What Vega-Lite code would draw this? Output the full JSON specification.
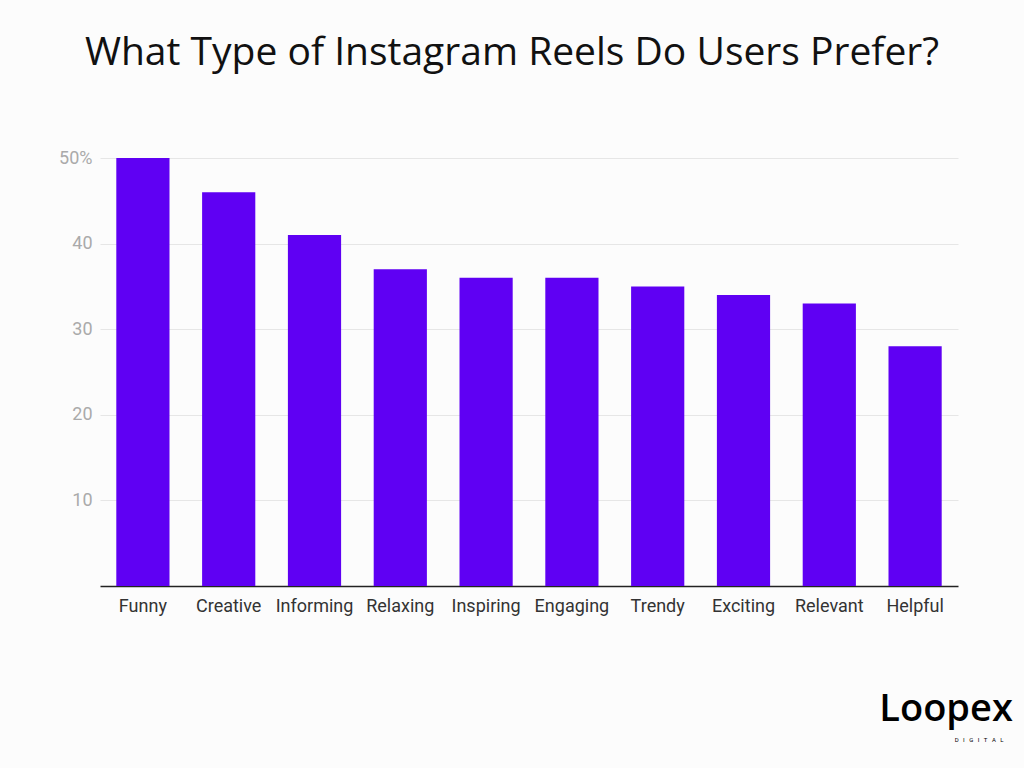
{
  "$schema": "https://vega.github.io/schema/vega-lite/v6.json",
  "width": 858,
  "height": 428,
  "autosize": {"type": "none"},
  "padding": {"left": 100, "top": 158, "right": 66, "bottom": 182},
  "background": "#fcfcfc",
  "title": {
    "text": "What Type of Instagram Reels Do Users Prefer?",
    "font": "Open Sans",
    "fontSize": 39,
    "fontWeight": "normal",
    "color": "#111111",
    "anchor": "middle",
    "dx": -17,
    "offset": 76
  },
  "config": {
    "view": {"stroke": null},
    "axis": {"labelFont": "Roboto"}
  },
  "layer": [
    {
      "data": {
        "values": [
          {"type": "Funny", "share": 50},
          {"type": "Creative", "share": 46},
          {"type": "Informing", "share": 41},
          {"type": "Relaxing", "share": 37},
          {"type": "Inspiring", "share": 36},
          {"type": "Engaging", "share": 36},
          {"type": "Trendy", "share": 35},
          {"type": "Exciting", "share": 34},
          {"type": "Relevant", "share": 33},
          {"type": "Helpful", "share": 28}
        ]
      },
      "mark": {"type": "bar", "color": "#5f00f3"},
      "encoding": {
        "x": {
          "field": "type",
          "type": "nominal",
          "sort": null,
          "title": null,
          "scale": {"paddingInner": 0.38, "paddingOuter": 0.19},
          "axis": {
            "labelAngle": 0,
            "labelFontSize": 18,
            "labelColor": "#333333",
            "labelPadding": 11,
            "ticks": false,
            "domainColor": "#222222",
            "domainWidth": 1.5
          }
        },
        "y": {
          "field": "share",
          "type": "quantitative",
          "title": null,
          "scale": {"domain": [0, 50]},
          "axis": {
            "values": [10, 20, 30, 40, 50],
            "labelExpr": "datum.value == 50 ? '50%' : datum.label",
            "labelFontSize": 18,
            "labelColor": "#aaaaaa",
            "labelPadding": 8,
            "ticks": false,
            "domain": false,
            "gridColor": "#e6e6e6"
          }
        }
      }
    },
    {
      "data": {"values": [{"type": "Helpful", "logo": "Loopex", "sub": "D\u00a0\u00a0\u00a0I\u00a0\u00a0\u00a0G\u00a0\u00a0\u00a0I\u00a0\u00a0\u00a0T\u00a0\u00a0\u00a0A\u00a0\u00a0\u00a0L"}]},
      "mark": {
        "type": "text",
        "font": "Open Sans",
        "fontSize": 38,
        "fontWeight": 600,
        "color": "#000000",
        "align": "center",
        "baseline": "alphabetic",
        "dx": 31,
        "clip": false
      },
      "encoding": {
        "x": {"field": "type", "type": "nominal", "sort": null},
        "y": {"datum": -15.8},
        "text": {"field": "logo"}
      }
    },
    {
      "data": {"values": [{"type": "Helpful", "logo": "Loopex", "sub": "D\u00a0\u00a0\u00a0I\u00a0\u00a0\u00a0G\u00a0\u00a0\u00a0I\u00a0\u00a0\u00a0T\u00a0\u00a0\u00a0A\u00a0\u00a0\u00a0L"}]},
      "mark": {
        "type": "text",
        "font": "Roboto",
        "fontSize": 6,
        "color": "#000000",
        "align": "center",
        "baseline": "middle",
        "dx": 64,
        "clip": false
      },
      "encoding": {
        "x": {"field": "type", "type": "nominal", "sort": null},
        "y": {"datum": -18.0},
        "text": {"field": "sub"}
      }
    }
  ]
}
